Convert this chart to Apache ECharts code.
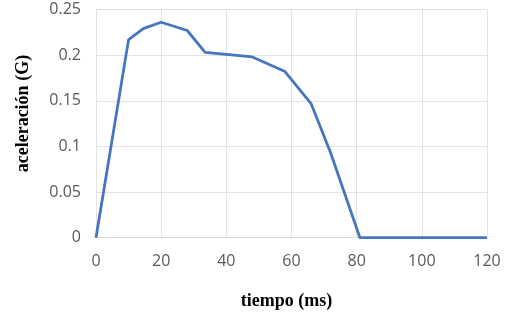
<!DOCTYPE html>
<html><head><meta charset="utf-8">
<script src="https://cdn.jsdelivr.net/npm/echarts@6/dist/echarts.min.js"></script>
<style>html,body{margin:0;padding:0;background:#fff}#c{width:512px;height:321px}</style>
</head><body><div id="c"></div>
<script>
const timeMs = [0, 10, 14.5, 20, 28, 33.5, 48, 58, 66, 72, 81, 120];
const accelG = [0, 0.217, 0.229, 0.236, 0.227, 0.203, 0.198, 0.182, 0.147, 0.093, 0, 0];
const xTicks = [0, 20, 40, 60, 80, 100, 120];
const yTicks = [0, 0.05, 0.1, 0.15, 0.2, 0.25];

const chart = echarts.init(document.getElementById('c'), null, {renderer: 'canvas'});
chart.setOption({
  animation: false,
  backgroundColor: '#ffffff',
  grid: {left: 96, right: 25, top: 9.5, bottom: 83.3, containLabel: false},
  xAxis: {
    type: 'value', min: xTicks[0], max: xTicks[xTicks.length - 1], interval: 20,
    name: 'tiempo (ms)', nameLocation: 'middle', nameGap: 55,
    nameTextStyle: {fontFamily: 'Liberation Serif', fontWeight: 'bold', fontSize: 18, color: '#000',
      padding: [0, 10, 0, 0]},
    axisLine: {show: true, lineStyle: {color: '#d9d9d9', width: 1}},
    axisTick: {show: false},
    axisLabel: {color: '#595959', fontFamily: 'Open Sans', fontSize: 16, margin: 16},
    splitLine: {show: true, lineStyle: {color: '#e3e3e3', width: 1}}
  },
  yAxis: {
    type: 'value', min: yTicks[0], max: yTicks[yTicks.length - 1], interval: 0.05,
    name: 'aceleración (G)', nameLocation: 'middle', nameGap: 64, nameRotate: 90,
    nameTextStyle: {fontFamily: 'Liberation Serif', fontWeight: 'bold', fontSize: 18, color: '#000',
      padding: [0, 0, 0, 20]},
    axisLine: {show: true, lineStyle: {color: '#e3e3e3', width: 1}},
    axisTick: {show: false},
    axisLabel: {color: '#595959', fontFamily: 'Open Sans', fontSize: 16, margin: 15,
      formatter: v => String(Math.round(v * 100) / 100)},
    splitLine: {show: true, lineStyle: {color: '#e3e3e3', width: 1}}
  },
  series: [{
    type: 'line',
    data: timeMs.map((t, i) => [t, accelG[i]]),
    showSymbol: false,
    lineStyle: {color: '#4676bd', width: 2.8},
    itemStyle: {color: '#4676bd'}
  }]
});
</script></body></html>
